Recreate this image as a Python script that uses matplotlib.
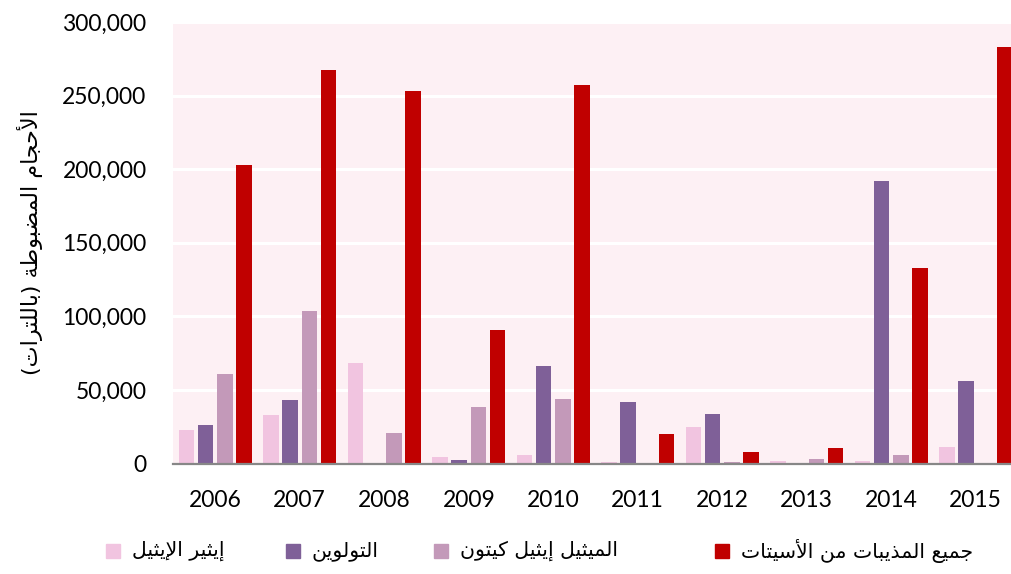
import matplotlib
matplotlib.use("Agg")
import matplotlib.pyplot as plt
from matplotlib.patches import Rectangle
from matplotlib.ticker import FuncFormatter, MultipleLocator
import numpy as np

years = ["2006", "2007", "2008", "2009", "2010", "2011", "2012", "2013", "2014", "2015"]
series_names = ["إيثير الإيثيل", "التولوين", "الميثيل إيثيل كيتون", "جميع المذيبات من الأسيتات"]
ethyl_ether = [22800, 33000, 68000, 4400, 5800, 1000, 24800, 1700, 1500, 11200]
toluene = [26200, 43200, 0, 2400, 66300, 41800, 33500, 0, 192000, 56100]
mek = [60900, 103700, 20700, 38400, 43900, 0, 1000, 3000, 5800, 0]
acetates = [203000, 267500, 253300, 90800, 257400, 20300, 7600, 10300, 132900, 283200]
y_label = "الأحجام المضبوطة (باللترات)"

colors = ["#f1c4e0", "#7f6098", "#c399b9", "#c00000"]

# matplotlib has no arabic shaping, so pick the presentation forms by hand
AR = {
    'ا': ('\uFE8D', '\uFE8E', None, None),
    'أ': ('\uFE83', '\uFE84', None, None),
    'إ': ('\uFE87', '\uFE88', None, None),
    'ب': ('\uFE8F', '\uFE90', '\uFE91', '\uFE92'),
    'ة': ('\uFE93', '\uFE94', None, None),
    'ت': ('\uFE95', '\uFE96', '\uFE97', '\uFE98'),
    'ث': ('\uFE99', '\uFE9A', '\uFE9B', '\uFE9C'),
    'ج': ('\uFE9D', '\uFE9E', '\uFE9F', '\uFEA0'),
    'ح': ('\uFEA1', '\uFEA2', '\uFEA3', '\uFEA4'),
    'ذ': ('\uFEAB', '\uFEAC', None, None),
    'ر': ('\uFEAD', '\uFEAE', None, None),
    'س': ('\uFEB1', '\uFEB2', '\uFEB3', '\uFEB4'),
    'ض': ('\uFEBD', '\uFEBE', '\uFEBF', '\uFEC0'),
    'ط': ('\uFEC1', '\uFEC2', '\uFEC3', '\uFEC4'),
    'ع': ('\uFEC9', '\uFECA', '\uFECB', '\uFECC'),
    'ك': ('\uFED9', '\uFEDA', '\uFEDB', '\uFEDC'),
    'ل': ('\uFEDD', '\uFEDE', '\uFEDF', '\uFEE0'),
    'م': ('\uFEE1', '\uFEE2', '\uFEE3', '\uFEE4'),
    'ن': ('\uFEE5', '\uFEE6', '\uFEE7', '\uFEE8'),
    'و': ('\uFEED', '\uFEEE', None, None),
    'ي': ('\uFEF1', '\uFEF2', '\uFEF3', '\uFEF4'),
}
LAM_ALEF = {'ا': ('\uFEFB', '\uFEFC'), 'أ': ('\uFEF7', '\uFEF8'), 'إ': ('\uFEF9', '\uFEFA')}


def shape(s):
    out = []
    i = 0
    prev_joins = False
    while i < len(s):
        c = s[i]
        if c not in AR:
            out.append({'(': ')', ')': '('}.get(c, c))
            prev_joins = False
            i += 1
            continue
        nxt = s[i + 1] if i + 1 < len(s) else ''
        if c == 'ل' and nxt in LAM_ALEF:
            out.append(LAM_ALEF[nxt][1 if prev_joins else 0])
            prev_joins = False
            i += 2
            continue
        iso, fin, ini, med = AR[c]
        next_joins = ini is not None and nxt in AR
        if prev_joins and next_joins:
            g = med
        elif prev_joins:
            g = fin
        elif next_joins:
            g = ini
        else:
            g = iso
        out.append(g)
        prev_joins = ini is not None
        i += 1
    return ''.join(reversed(out))


W, H = 1012, 574
fig = plt.figure(figsize=(W / 100, H / 100), dpi=100)
ax = fig.add_axes([173 / W, (H - 463.5) / H, 845 / W, 441.5 / H])
ax.set_facecolor("#fdf0f4")

x = np.arange(len(years))
step = 0.2284
width = 0.183
data = [ethyl_ether, toluene, mek, acetates]
for k, (vals, col) in enumerate(zip(data, colors)):
    ax.bar(x + (k - 1.5) * step, vals, width=width, color=col, zorder=3)

ax.set_xlim(-0.5, 9.5)
ax.set_ylim(0, 300000)
ax.yaxis.set_major_locator(MultipleLocator(50000))
ax.yaxis.set_major_formatter(FuncFormatter(lambda v, p: f"{int(v):,}"))
ax.grid(axis="y", color="white", linewidth=2.2, zorder=1)
ax.set_xticks(x)
ax.set_xticklabels(years)
ax.tick_params(axis="both", length=0, labelsize=16.5)
ax.tick_params(axis="y", pad=19)
ax.tick_params(axis="x", pad=19)
for lab in ax.get_xticklabels() + ax.get_yticklabels():
    lab.set_fontfamily("Lato")
for s in ["top", "right", "left"]:
    ax.spines[s].set_visible(False)
ax.spines["bottom"].set_color("#878787")
ax.spines["bottom"].set_linewidth(1.6)
ax.spines["bottom"].set_zorder(4)

fig.text(30 / W, 1 - 243 / H, shape(y_label), rotation=90, ha="center", va="center",
         fontsize=16, family="DejaVu Sans")

# legend laid out like the original (square then label)
sq_left = [106, 286, 434, 715]
for name, col, sx in zip(series_names, colors, sq_left):
    fig.patches.append(Rectangle((sx / W, 1 - 558 / H), 14 / W, 14 / H,
                                 transform=fig.transFigure, color=col))
    fig.text((sx + 26) / W, 1 - 551 / H, shape(name), ha="left", va="center",
             fontsize=14.7, family="DejaVu Sans")

fig.savefig("out.png", dpi=100)
